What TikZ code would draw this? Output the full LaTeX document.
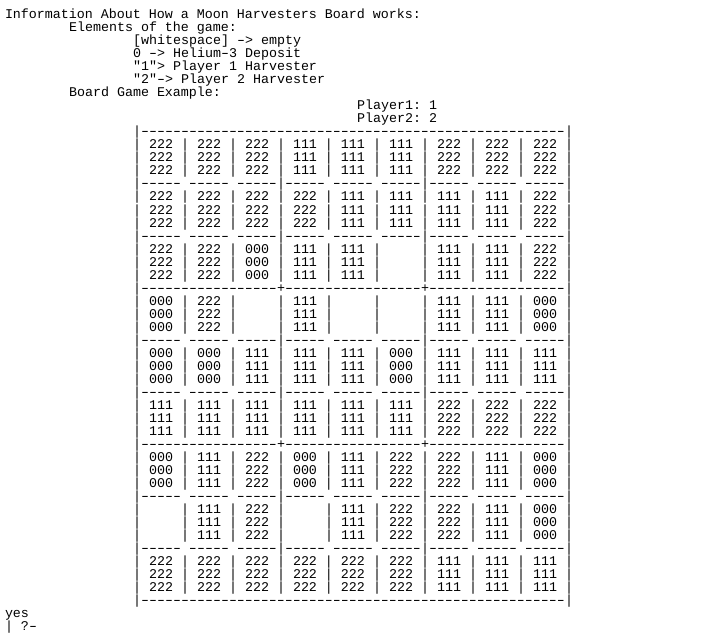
\documentclass[tikz,border=0pt]{standalone}
\usepackage{fontspec}
\setmonofont{Liberation Mono}
\newfontfamily\dashfont{Liberation Mono}[FakeStretch=1.5]
\newcommand\mono{\fontsize{13.333bp}{13bp}\selectfont\ttfamily}
\newcommand\hy{\makebox[8bp][c]{\dashfont\fontsize{13.333bp}{13bp}\selectfont -}}
\newcommand\dd{\hy\hy\hy\hy\hy}
\newcommand\sepInner{|\dd~\dd~\dd|\dd~\dd~\dd|\dd~\dd~\dd|}
\newcommand\sepBlock{|\dd\hy\dd\hy\dd+\dd\hy\dd\hy\dd+\dd\hy\dd\hy\dd|}
\newcommand\sepFull{|\dd\hy\dd\hy\dd\hy\dd\hy\dd\hy\dd\hy\dd\hy\dd\hy\dd|}
\newcommand\rA{|~222~|~222~|~222~|~111~|~111~|~111~|~222~|~222~|~222~|}
\newcommand\rB{|~222~|~222~|~222~|~222~|~111~|~111~|~111~|~111~|~222~|}
\newcommand\rC{|~222~|~222~|~000~|~111~|~111~|~~~~~|~111~|~111~|~222~|}
\newcommand\rD{|~000~|~222~|~~~~~|~111~|~~~~~|~~~~~|~111~|~111~|~000~|}
\newcommand\rE{|~000~|~000~|~111~|~111~|~111~|~000~|~111~|~111~|~111~|}
\newcommand\rF{|~111~|~111~|~111~|~111~|~111~|~111~|~222~|~222~|~222~|}
\newcommand\rG{|~000~|~111~|~222~|~000~|~111~|~222~|~222~|~111~|~000~|}
\newcommand\rH{|~~~~~|~111~|~222~|~~~~~|~111~|~222~|~222~|~111~|~000~|}
\newcommand\rI{|~222~|~222~|~222~|~222~|~222~|~222~|~111~|~111~|~111~|}
\tikzset{ln/.style={anchor=base west, inner sep=0pt, outer sep=0pt, font=\mono, text=black}}
\begin{document}
\begin{tikzpicture}[x=1bp,y=-1bp]
\fill[white] (0,0) rectangle (708,637);
\useasboundingbox (0,0) rectangle (708,637);
\node[ln] (l0) at (5,19) {Information About How a Moon Harvesters Board works:};
\node[ln] (l1) at (69,32) {Elements of the game:};
\node[ln] (l2) at (133,45) {[whitespace] \hy> empty};
\node[ln] (l3) at (133,58) {0 \hy> Helium\hy3 Deposit};
\node[ln] (l4) at (133,71) {"1"> Player 1 Harvester};
\node[ln] (l5) at (133,84) {"2"\hy> Player 2 Harvester};
\node[ln] (l6) at (69,97) {Board Game Example:};
\node[ln] (l7) at (357,110) {Player1: 1};
\node[ln] (l8) at (357,123) {Player2: 2};
\node[ln] (l9) at (133,136) {\sepFull};
\node[ln] (l10) at (133,149) {\rA};
\node[ln] (l11) at (133,162) {\rA};
\node[ln] (l12) at (133,175) {\rA};
\node[ln] (l13) at (133,188) {\sepInner};
\node[ln] (l14) at (133,201) {\rB};
\node[ln] (l15) at (133,214) {\rB};
\node[ln] (l16) at (133,227) {\rB};
\node[ln] (l17) at (133,240) {\sepInner};
\node[ln] (l18) at (133,253) {\rC};
\node[ln] (l19) at (133,266) {\rC};
\node[ln] (l20) at (133,279) {\rC};
\node[ln] (l21) at (133,292) {\sepBlock};
\node[ln] (l22) at (133,305) {\rD};
\node[ln] (l23) at (133,318) {\rD};
\node[ln] (l24) at (133,331) {\rD};
\node[ln] (l25) at (133,344) {\sepInner};
\node[ln] (l26) at (133,357) {\rE};
\node[ln] (l27) at (133,370) {\rE};
\node[ln] (l28) at (133,383) {\rE};
\node[ln] (l29) at (133,396) {\sepInner};
\node[ln] (l30) at (133,409) {\rF};
\node[ln] (l31) at (133,422) {\rF};
\node[ln] (l32) at (133,435) {\rF};
\node[ln] (l33) at (133,448) {\sepBlock};
\node[ln] (l34) at (133,461) {\rG};
\node[ln] (l35) at (133,474) {\rG};
\node[ln] (l36) at (133,487) {\rG};
\node[ln] (l37) at (133,500) {\sepInner};
\node[ln] (l38) at (133,513) {\rH};
\node[ln] (l39) at (133,526) {\rH};
\node[ln] (l40) at (133,539) {\rH};
\node[ln] (l41) at (133,552) {\sepInner};
\node[ln] (l42) at (133,565) {\rI};
\node[ln] (l43) at (133,578) {\rI};
\node[ln] (l44) at (133,591) {\rI};
\node[ln] (l45) at (133,604) {\sepFull};
\node[ln] (l46) at (5,617) {yes};
\node[ln] (l47) at (5,630) {| ?\hy};
\end{tikzpicture}
\end{document}
